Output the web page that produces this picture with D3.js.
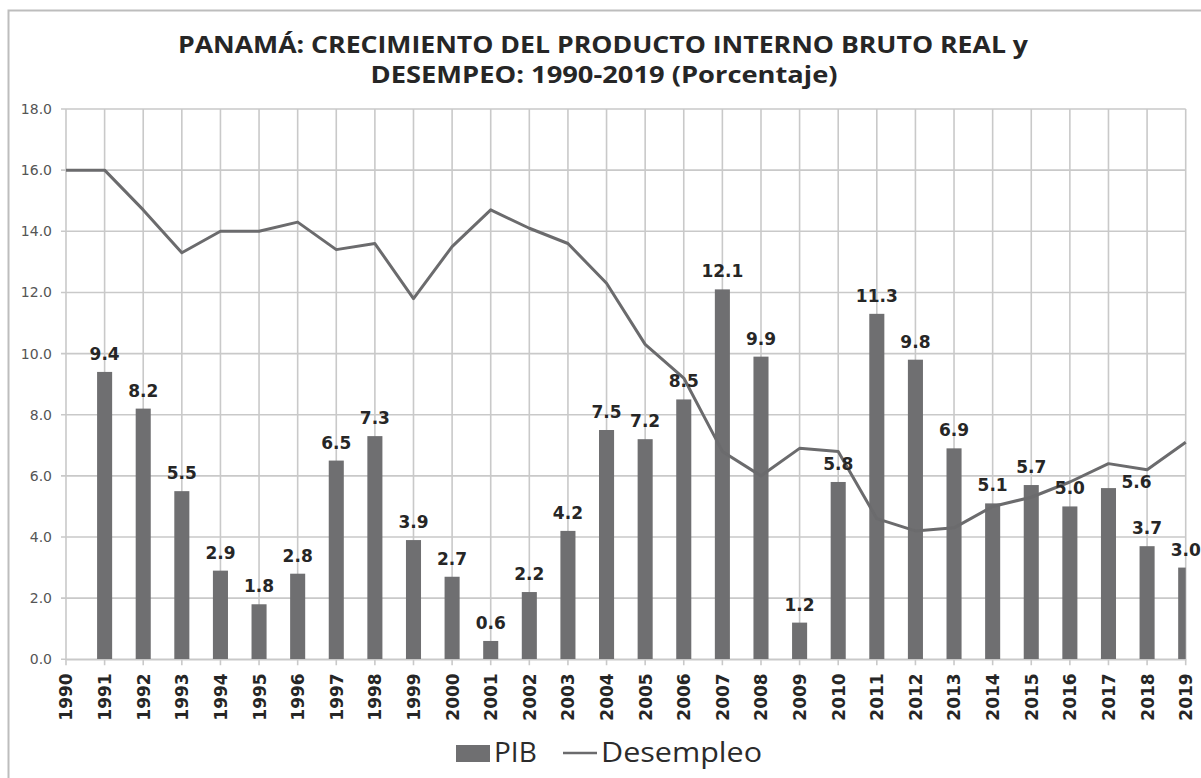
<!DOCTYPE html>
<html>
<head>
<meta charset="utf-8">
<script src="https://d3js.org/d3.v7.min.js"></script>
<style>
  body { margin: 0; background: #fff; }
</style>
</head>
<body>
<script>
// years on the x axis
var years = [1990,1991,1992,1993,1994,1995,1996,1997,1998,1999,
             2000,2001,2002,2003,2004,2005,2006,2007,2008,2009,
             2010,2011,2012,2013,2014,2015,2016,2017,2018,2019];
// PIB growth (bars), 1990 has no value
var pib = [null,9.4,8.2,5.5,2.9,1.8,2.8,6.5,7.3,3.9,
           2.7,0.6,2.2,4.2,7.5,7.2,8.5,12.1,9.9,1.2,
           5.8,11.3,9.8,6.9,5.1,5.7,5.0,5.6,3.7,3.0];
// unemployment (line)
var desempleo = [16.0,16.0,14.7,13.3,14.0,14.0,14.3,13.4,13.6,11.8,
                 13.5,14.7,14.1,13.6,12.3,10.3,9.2,6.8,6.0,6.9,
                 6.8,4.6,4.2,4.3,5.0,5.3,5.8,6.4,6.2,7.1];
var yTicks = [0,2,4,6,8,10,12,14,16,18];
var titleLines = ["PANAMÁ: CRECIMIENTO DEL PRODUCTO INTERNO BRUTO REAL y",
                  "DESEMPEO: 1990-2019 (Porcentaje)"];

var width = 1201, height = 778;
// plot area (window.top is taken, so p-prefixed names)
var pLeft = 66, pRight = 1185.7, pTop = 109, pBottom = 659.3;

var svg = d3.select("body").append("svg")
    .attr("width", width)
    .attr("height", height);

// outer chart border
svg.append("rect")
    .attr("x", 8.5).attr("y", 10.5)
    .attr("width", 1220).attr("height", 800)
    .attr("fill", "none")
    .attr("stroke", "#bdbdbd")
    .attr("stroke-width", 2);

var x = d3.scalePoint().domain(years).range([pLeft, pRight]);
var y = d3.scaleLinear().domain([0, 18]).range([pBottom, pTop]);
var barW = x.step() * 0.39;

// title
svg.append("text")
    .attr("x", 603).attr("y", 53)
    .attr("text-anchor", "middle")
    .attr("textLength", 850).attr("lengthAdjust", "spacingAndGlyphs")
    .style("font", "bold 24px 'Open Sans'")
    .attr("fill", "#262626")
    .text(titleLines[0]);
svg.append("text")
    .attr("x", 604).attr("y", 83)
    .attr("text-anchor", "middle")
    .attr("textLength", 467).attr("lengthAdjust", "spacingAndGlyphs")
    .style("font", "bold 24px 'Open Sans'")
    .attr("fill", "#262626")
    .text(titleLines[1]);

// gridlines
var grid = svg.append("g").attr("stroke", "#c9c9c9").attr("stroke-width", 1.6);
grid.selectAll("line.h").data(yTicks).enter().append("line")
    .attr("class", "h")
    .attr("x1", pLeft - 5).attr("x2", pRight)
    .attr("y1", function(d){ return y(d); })
    .attr("y2", function(d){ return y(d); });
grid.selectAll("line.v").data(years).enter().append("line")
    .attr("class", "v")
    .attr("x1", function(d){ return x(d); })
    .attr("x2", function(d){ return x(d); })
    .attr("y1", pTop).attr("y2", pBottom + 6);

// y axis labels
var yAxis = svg.append("g")
    .attr("transform", "translate(" + (pLeft - 5) + ",0)")
    .call(d3.axisLeft(y).tickValues(yTicks).tickFormat(d3.format(".1f")).tickSize(0).tickPadding(9));
yAxis.select(".domain").remove();
yAxis.selectAll("text")
    .style("font", "14px 'DejaVu Sans'")
    .attr("fill", "#555");

// bars, clipped to plot area
svg.append("clipPath").attr("id", "plot")
  .append("rect").attr("x", pLeft).attr("y", 0)
  .attr("width", pRight - pLeft).attr("height", pBottom);

var barData = years.map(function(d, i){ return {year: d, v: pib[i]}; })
    .filter(function(d){ return d.v !== null; });

svg.append("g").attr("clip-path", "url(#plot)")
  .selectAll("rect").data(barData).enter().append("rect")
    .attr("x", function(d){ return x(d.year) - barW / 2; })
    .attr("y", function(d){ return y(d.v); })
    .attr("width", barW)
    .attr("height", function(d){ return pBottom - y(d.v); })
    .attr("fill", "#6f6f71");

// x axis
var xAxis = svg.append("g")
    .attr("transform", "translate(0," + pBottom + ")")
    .call(d3.axisBottom(x).tickSize(0).tickPadding(14));
xAxis.select(".domain").attr("stroke", "#c9c9c9").attr("stroke-width", 1.6);
xAxis.selectAll("text")
    .attr("transform", "rotate(-90)")
    .attr("x", -14).attr("y", 0).attr("dy", "0.35em")
    .attr("text-anchor", "end")
    .style("font", "bold 17px 'DejaVu Sans'")
    .attr("fill", "#262626");

// unemployment line
var line = d3.line()
    .x(function(d, i){ return x(years[i]); })
    .y(function(d){ return y(d); });
svg.append("path")
    .datum(desempleo)
    .attr("d", line)
    .attr("fill", "none")
    .attr("stroke", "#6b6b6d")
    .attr("stroke-width", 3)
    .attr("stroke-linejoin", "round");

// value labels; the 2017 one was nudged off the line in the original
var nudge = {2017: [28, 12]};
svg.append("g").selectAll("text").data(barData).enter().append("text")
    .attr("x", function(d){ return x(d.year) + (nudge[d.year] ? nudge[d.year][0] : 0); })
    .attr("y", function(d){ return y(d.v) - 12 + (nudge[d.year] ? nudge[d.year][1] : 0); })
    .attr("text-anchor", "middle")
    .style("font", "bold 17px 'DejaVu Sans'")
    .attr("fill", "#262626")
    .text(function(d){ return d3.format(".1f")(d.v); });

// legend
var lg = svg.append("g");
lg.append("rect")
    .attr("x", 456).attr("y", 745)
    .attr("width", 34).attr("height", 17)
    .attr("fill", "#6f6f71");
lg.append("text")
    .attr("x", 494).attr("y", 762)
    .style("font", "28px 'Open Sans'")
    .attr("fill", "#2b2b2b")
    .text("PIB");
lg.append("line")
    .attr("x1", 563).attr("x2", 597)
    .attr("y1", 753).attr("y2", 753)
    .attr("stroke", "#6b6b6d").attr("stroke-width", 2.5);
lg.append("text")
    .attr("x", 601).attr("y", 762)
    .attr("textLength", 161).attr("lengthAdjust", "spacingAndGlyphs")
    .style("font", "28px 'Open Sans'")
    .attr("fill", "#2b2b2b")
    .text("Desempleo");
</script>
</body>
</html>
